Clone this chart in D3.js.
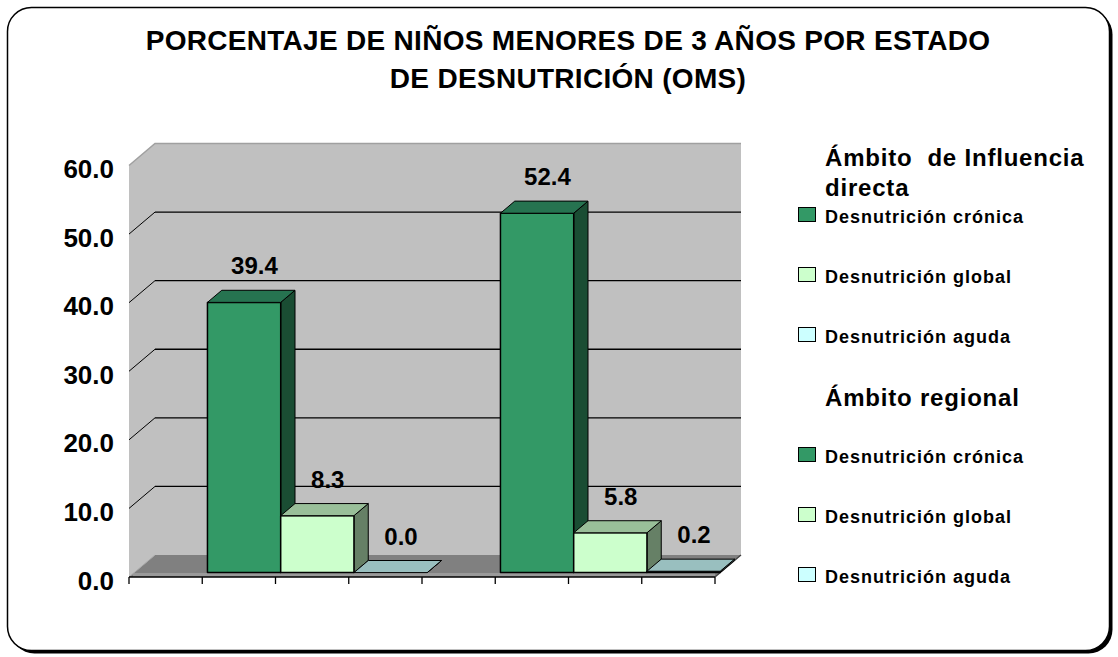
<!DOCTYPE html>
<html>
<head>
<meta charset="utf-8">
<script src="https://cdn.jsdelivr.net/npm/d3@7"></script>
<style>
  body { margin: 0; background: #fff; }
  svg text { font-family: "Liberation Sans", Arial, sans-serif; font-weight: bold; fill: #000; }
</style>
</head>
<body>
<div id="chart"></div>
<script>
// Chart data
const titleLines = ["PORCENTAJE DE NIÑOS MENORES DE 3 AÑOS POR ESTADO", "DE DESNUTRICIÓN (OMS)"];
const slotNames = ["Ámbito  de Influencia directa", "Desnutrición crónica", "Desnutrición global", "Desnutrición aguda",
                   "Ámbito regional", "Desnutrición crónica", "Desnutrición global", "Desnutrición aguda"];
const slotKinds = ["header", "cronica", "global", "aguda", "header", "cronica", "global", "aguda"];
const values = [null, 39.4, 8.3, 0.0, null, 52.4, 5.8, 0.2];
const yTicks = [0, 10, 20, 30, 40, 50, 60];

// colours for each kind: front, top, side
const palette = {
  cronica: {front: "#339966", top: "#267350", side: "#1a4d33"},
  global:  {front: "#ccffcc", top: "#99bf99", side: "#668066"},
  aguda:   {front: "#ccffff", top: "#99bfbf", side: "#668080"}
};

const width = 1118, height = 657;
const plot = {left: 129, right: 715, bottom: 577, top: 165.5};
const DX = 26, DY = 22;       // depth of the 3D box
const f0 = 0.2, f1 = 0.75;    // depth range used by the bars

const svg = d3.select("#chart")
  .append("svg")
    .attr("width", width)
    .attr("height", height)
    .attr("viewBox", [0, 0, width, height]);

/* Frame with shadow */
svg.append("rect")
  .attr("x", 10.5).attr("y", 10.5).attr("width", 1102).attr("height", 643)
  .attr("rx", 24).attr("fill", "#000");
svg.append("rect")
  .attr("x", 7.5).attr("y", 7.5).attr("width", 1102).attr("height", 643)
  .attr("rx", 24).attr("fill", "#fff").attr("stroke", "#000").attr("stroke-width", 1.5);

/* Title */
svg.append("g")
  .selectAll("text")
  .data(titleLines)
  .join("text")
    .attr("x", 568)
    .attr("y", (d, i) => 50 + i * 38)
    .attr("text-anchor", "middle")
    .attr("font-size", 28)
    .style("letter-spacing", "0.3px")
    .text(d => d);

/* Scales */
const xScale = d3.scaleBand()
  .domain(d3.range(slotNames.length))
  .range([plot.left, plot.right])
  .padding(0);

const yScale = d3.scaleLinear()
  .domain([0, 60])
  .range([plot.bottom, plot.top]);

const proj = (x, y, f) => [x + DX * f, y - DY * f];
const pts = arr => arr.map(p => p.join(",")).join(" ");

/* Walls and floor */
const walls = svg.append("g").attr("class", "walls");
const yMax = yScale(60), y0 = yScale(0);

walls.append("polygon")
  .attr("points", pts([proj(plot.left, yMax, 1), proj(plot.right, yMax, 1), proj(plot.right, y0, 1), proj(plot.left, y0, 1)]))
  .attr("fill", "#c0c0c0");
walls.append("polygon")
  .attr("points", pts([[plot.left, yMax], proj(plot.left, yMax, 1), proj(plot.left, y0, 1), [plot.left, y0]]))
  .attr("fill", "#c0c0c0");
walls.append("polygon")
  .attr("points", pts([[plot.left, y0], [plot.right, y0], proj(plot.right, y0, 1), proj(plot.left, y0, 1)]))
  .attr("fill", "#808080");
// thin front edge of the floor
walls.append("rect")
  .attr("x", plot.left + 4).attr("y", y0 - 4)
  .attr("width", plot.right - plot.left - 4).attr("height", 4)
  .attr("fill", "#9a9a9a");

// top edges of the walls
walls.append("polyline")
  .attr("points", pts([[plot.left, yMax], proj(plot.left, yMax, 1), proj(plot.right, yMax, 1)]))
  .attr("fill", "none").attr("stroke", "#a0a0a0").attr("stroke-width", 1.5);
walls.append("line")
  .attr("x1", plot.left).attr("y1", y0)
  .attr("x2", proj(plot.left, y0, 1)[0]).attr("y2", proj(plot.left, y0, 1)[1])
  .attr("stroke", "#a8a8a8");

/* Gridlines on the back and side walls */
const grid = svg.append("g").attr("class", "grid")
  .selectAll("g")
  .data(yTicks.filter(v => v > 0 && v < 60))
  .join("g");
grid.append("line")
  .attr("x1", d => proj(plot.left, yScale(d), 1)[0])
  .attr("y1", d => proj(plot.left, yScale(d), 1)[1])
  .attr("x2", d => proj(plot.right, yScale(d), 1)[0])
  .attr("y2", d => proj(plot.right, yScale(d), 1)[1])
  .attr("stroke", "#000").attr("stroke-width", 1.3);
grid.append("line")
  .attr("x1", plot.left)
  .attr("y1", d => yScale(d))
  .attr("x2", d => proj(plot.left, yScale(d), 1)[0])
  .attr("y2", d => proj(plot.left, yScale(d), 1)[1])
  .attr("stroke", "#000");

/* X axis line, ticks and floor right edge */
const axis = svg.append("g").attr("class", "x-axis");
axis.append("line")
  .attr("x1", plot.left).attr("x2", plot.right)
  .attr("y1", y0).attr("y2", y0)
  .attr("stroke", "#000").attr("stroke-width", 1.5);
axis.selectAll("line.tick")
  .data(d3.range(slotNames.length + 1))
  .join("line")
    .attr("class", "tick")
    .attr("x1", i => plot.left + i * xScale.step())
    .attr("x2", i => plot.left + i * xScale.step())
    .attr("y1", y0).attr("y2", y0 + 7)
    .attr("stroke", "#000").attr("stroke-width", 1.3);
axis.append("line")
  .attr("x1", plot.right).attr("y1", y0)
  .attr("x2", proj(plot.right, y0, 1)[0]).attr("y2", proj(plot.right, y0, 1)[1])
  .attr("stroke", "#404040").attr("stroke-width", 1.3);

/* Y tick labels */
svg.append("g")
  .attr("class", "y-axis")
  .selectAll("text")
  .data(yTicks)
  .join("text")
    .attr("x", 114)
    .attr("y", d => yScale(d) + 12.5)
    .attr("text-anchor", "end")
    .attr("font-size", 26)
    .text(d => d.toFixed(1));

/* 3D bars */
const barData = values.map((v, i) => ({i, v, kind: slotKinds[i]})).filter(d => d.v !== null);

const bars = svg.append("g")
  .attr("class", "bars")
  .selectAll("g")
  .data(barData)
  .join("g");

bars.each(function(d) {
  const g = d3.select(this);
  const c = palette[d.kind];
  const xa = xScale(d.i), xb = xa + xScale.bandwidth();
  const yt = yScale(d.v), yb = yScale(0);
  // side face
  g.append("polygon")
    .attr("points", pts([proj(xb, yt, f0), proj(xb, yb, f0), proj(xb, yb, f1), proj(xb, yt, f1)]))
    .attr("fill", c.side).attr("stroke", "#000").attr("stroke-linejoin", "round");
  // front face
  if (yb - yt > 0.5) {
    g.append("polygon")
      .attr("points", pts([proj(xa, yt, f0), proj(xb, yt, f0), proj(xb, yb, f0), proj(xa, yb, f0)]))
      .attr("fill", c.front).attr("stroke", "#000").attr("stroke-width", 1.5).attr("stroke-linejoin", "round");
  }
  // top face
  g.append("polygon")
    .attr("points", pts([proj(xa, yt, f0), proj(xb, yt, f0), proj(xb, yt, f1), proj(xa, yt, f1)]))
    .attr("fill", c.top).attr("stroke", "#000").attr("stroke-linejoin", "round");
});

/* Value labels */
svg.append("g")
  .attr("class", "labels")
  .selectAll("text")
  .data(barData)
  .join("text")
    .attr("x", d => xScale(d.i) + xScale.bandwidth() / 2 + DX * 0.6)
    .attr("y", d => yScale(d.v) - DY * f0 - 28)
    .attr("text-anchor", "middle")
    .attr("font-size", 24)
    .text(d => d.v.toFixed(1));

/* Legend */
const legend = svg.append("g")
  .attr("class", "legend")
  .selectAll("g")
  .data(slotNames.map((name, i) => ({name, kind: slotKinds[i], i})))
  .join("g")
    .attr("transform", d => `translate(0, ${157 + 60 * d.i})`);

legend.filter(d => d.kind === "header")
  .append("text")
    .attr("x", 825)
    .attr("y", 8.5)
    .attr("font-size", 24)
    .style("white-space", "pre")
    .style("letter-spacing", "0.8px")
    .each(function(d) {
      const t = d3.select(this);
      const lines = d.name === "Ámbito  de Influencia directa" ? ["Ámbito  de Influencia", "directa"] : [d.name];
      lines.forEach((l, k) => t.append("tspan").attr("x", 825).attr("dy", k ? 30 : 0).text(l));
    });

const items = legend.filter(d => d.kind !== "header");
items.append("rect")
  .attr("x", 798.5).attr("y", -9.5)
  .attr("width", 17).attr("height", 14)
  .attr("fill", d => palette[d.kind].front)
  .attr("stroke", "#000");
items.append("text")
  .attr("x", 825)
  .attr("y", 6)
  .attr("font-size", 18)
  .style("letter-spacing", "1px")
  .text(d => d.name);
</script>
</body>
</html>
